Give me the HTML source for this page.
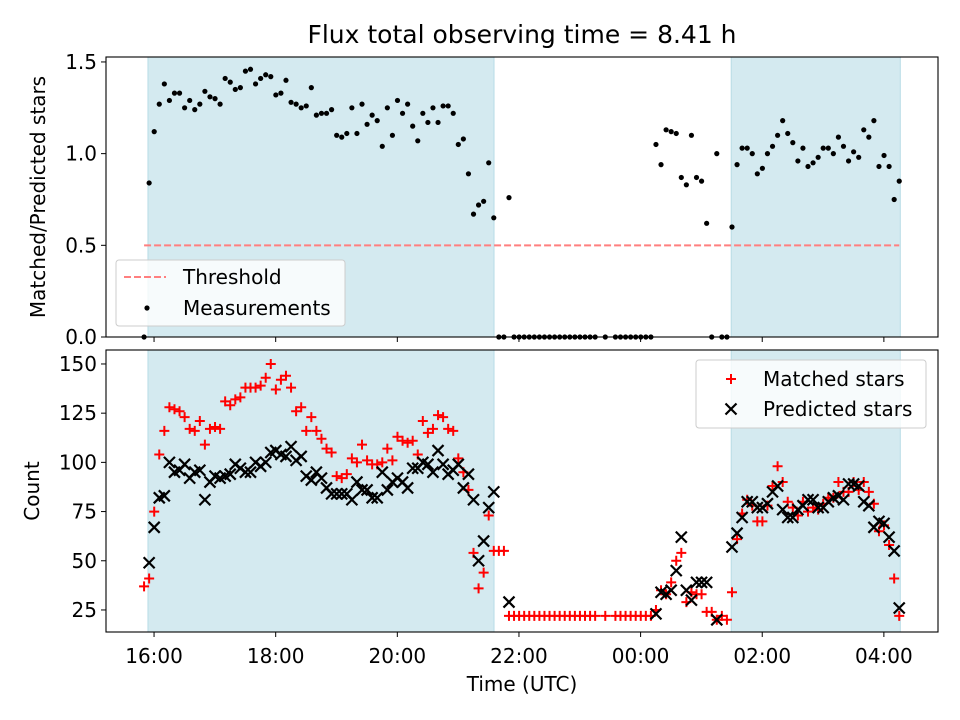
<!DOCTYPE html>
<html><head><meta charset="utf-8"><style>
html,body{margin:0;padding:0;background:#fff;}
svg{display:block;font-family:"DejaVu Sans","Liberation Sans",sans-serif;}
</style></head><body>
<svg id="fig" width="960" height="720" viewBox="0 0 960 720" xmlns="http://www.w3.org/2000/svg"></svg>
<script>
const startHour = -0.164;   // first sample ~15:50 (hours since 16:00)
const stepMinutes = 5;
const ratio = [0,0.84,1.12,1.27,1.38,1.29,1.33,1.33,1.25,1.29,
1.24,1.27,1.34,1.31,1.30,1.27,1.41,1.39,1.35,1.36,
1.45,1.46,1.38,1.41,1.43,1.42,1.32,1.33,1.40,1.28,
1.27,1.25,1.26,1.36,1.21,1.22,1.22,1.24,1.10,1.09,
1.11,1.25,1.11,1.27,1.16,1.21,1.18,1.04,1.25,1.10,
1.29,1.22,1.27,1.15,1.07,1.22,1.17,1.25,1.17,1.26,
1.26,1.22,1.05,1.08,0.89,0.67,0.72,0.74,0.95,0.65,
0,0,0.76,0,0,0,0,0,0,0,
0,0,0,0,0,0,0,0,0,0,
null,0,null,0,0,0,0,0,0,0,
0,1.05,0.94,1.13,1.12,1.11,0.87,0.83,1.10,0.87,
0.85,0.62,0,1.00,0,0,0.60,0.94,1.03,1.03,
1.00,0.89,0.92,1.00,1.04,1.10,1.18,1.11,1.06,0.96,
1.03,0.93,0.95,0.98,1.03,1.03,1.00,1.09,1.04,0.96,
1.01,0.98,1.13,1.09,1.18,0.93,0.99,0.93,0.75,0.85];
const matched = [37,41,75,104,116,128,127,126,123,117,
116,121,109,117,118,117,131,129,132,133,
138,138,138,139,143,150,137,142,144,138,
126,128,116,123,116,112,107,105,93,92,
94,102,100,109,101,99,99,100,107,101,
113,111,110,111,104,121,115,117,124,123,
117,116,102,95,86,54,36,44,73,55,
55,55,22,22,22,22,22,22,22,22,
22,22,22,22,22,22,22,22,22,22,
null,22,null,22,22,22,22,22,22,22,
22,25,35,33,39,50,54,29,34,33,
33,24,24,20,22,20,34,61,74,81,
78,70,70,78,88,98,90,80,77,73,
80,75,77,76,79,82,82,90,85,85,
90,86,90,85,79,65,68,58,41,22];
const predicted = [null,49,67,82,83,100,95,96,99,92,
95,96,81,90,93,92,93,94,99,97,
95,95,100,98,100,105,106,104,103,108,
101,103,93,91,95,92,87,84,84,84,
84,81,90,86,86,82,82,95,86,90,
92,90,87,97,97,100,99,95,106,99,
94,96,99,87,94,81,50,60,77,85,
null,null,29,null,null,null,null,null,null,null,
null,null,null,null,null,null,null,null,null,null,
null,null,null,null,null,null,null,null,null,null,
null,23,34,33,35,45,62,35,30,39,
39,39,null,20,null,null,57,64,72,80,
80,77,77,79,85,88,76,72,72,76,
78,81,81,77,77,80,82,83,81,89,
89,88,80,78,67,70,69,62,55,26];
const threshold = 0.5;
const spans = [[-0.10,5.59],[9.49,12.27]];
const xTickHours = [0,2,4,6,8,10,12];
const xTickLabels = ["16:00","18:00","20:00","22:00","00:00","02:00","04:00"];
const topTicks = [0,0.5,1.0,1.5];
const topTickLabels = ["0.0","0.5","1.0","1.5"];
const botTicks = [25,50,75,100,125,150];

const NS="http://www.w3.org/2000/svg";
const svg=document.getElementById('fig');
function mk(tag,attrs,parent){const e=document.createElementNS(NS,tag);for(const k in attrs)e.setAttribute(k,attrs[k]);(parent||svg).appendChild(e);return e;}
const L=106,R=938, T1=57,B1=337, T2=350,B2=632;
const FS=20;
const xMin=-0.79,xMax=12.89;
function xs(h){return L+(h-xMin)/(xMax-xMin)*(R-L);}
function y1(v){return B1-(v-0)/(1.527-0)*(B1-T1);}
function y2(v){return B2-(v-13.8)/(157.1-13.8)*(B2-T2);}
function tAt(i){return startHour+i*stepMinutes/60;}

let t=mk('text',{x:522,y:43,'text-anchor':'middle','font-size':25});
t.textContent='Flux total observing time = 8.41 h';



function axes(T,B,name){
  const g=mk('g',{});
  
  
  spans.forEach((s,k)=>{
    const r=mk('rect',{x:xs(s[0]),y:T,width:xs(s[1])-xs(s[0]),height:B-T,fill:'#d4eaf0',stroke:'#b8dce6','stroke-width':1},g);
    
    
  });
  return g;
}
function frame(T,B,g){
  mk('rect',{x:L,y:T,width:R-L,height:B-T,fill:'none',stroke:'#000','stroke-width':1.1},g);
  xTickHours.forEach(h=>{mk('line',{x1:xs(h),x2:xs(h),y1:B,y2:B+5,stroke:'#000','stroke-width':1},g);});
}

const g1=axes(T1,B1,'ratio-panel');
const th=mk('line',{x1:xs(tAt(0)),x2:xs(tAt(ratio.length-1)),y1:y1(threshold),y2:y1(threshold),stroke:'#ff7f7f','stroke-width':2,'stroke-dasharray':'7,3'},g1);


ratio.forEach((v,i)=>{
  if(v===null)return;
  const c=mk('circle',{cx:xs(tAt(i)),cy:y1(v),r:2.6,fill:'#000'},g1);
  
  
});
frame(T1,B1,g1);
topTicks.forEach((v,k)=>{
  mk('line',{x1:L-5,x2:L,y1:y1(v),y2:y1(v),stroke:'#000'},g1);
  const tx=mk('text',{x:L-9,y:y1(v)+7,'text-anchor':'end','font-size':FS},g1);
  tx.textContent=topTickLabels[k];
  
  
});
let yl=mk('text',{transform:'translate(45,197) rotate(-90)','text-anchor':'middle','font-size':FS});
yl.textContent='Matched/Predicted stars';


const lg1=mk('g',{});


mk('rect',{x:116,y:260,width:229,height:66,rx:3,fill:'#fff','fill-opacity':0.8,stroke:'#ccc'},lg1);
mk('line',{x1:124,x2:166,y1:277,y2:277,stroke:'#ff7f7f','stroke-width':2,'stroke-dasharray':'7,3'},lg1);
let lt=mk('text',{x:183,y:284,'font-size':FS},lg1);lt.textContent='Threshold';


mk('circle',{cx:147,cy:308,r:2.6,fill:'#000'},lg1);
lt=mk('text',{x:183,y:315,'font-size':FS},lg1);lt.textContent='Measurements';



const g2=axes(T2,B2,'count-panel');
matched.forEach((v,i)=>{
  if(v===null)return;
  const x=xs(tAt(i)),y=y2(v);
  const p=mk('path',{d:`M${x-5},${y}H${x+5}M${x},${y-5}V${y+5}`,stroke:'#f00','stroke-width':2,fill:'none'},g2);
  
  
});
predicted.forEach((v,i)=>{
  if(v===null)return;
  const x=xs(tAt(i)),y=y2(v);
  const p=mk('path',{d:`M${x-5.5},${y-5.5}L${x+5.5},${y+5.5}M${x-5.5},${y+5.5}L${x+5.5},${y-5.5}`,stroke:'#000','stroke-width':2.2,fill:'none'},g2);
  
  
});
frame(T2,B2,g2);
botTicks.forEach(v=>{
  mk('line',{x1:L-5,x2:L,y1:y2(v),y2:y2(v),stroke:'#000'},g2);
  const tx=mk('text',{x:L-9,y:y2(v)+7,'text-anchor':'end','font-size':FS},g2);
  tx.textContent=String(v);
  
  
});
xTickHours.forEach((h,k)=>{
  const tx=mk('text',{x:xs(h),y:B2+31,'text-anchor':'middle','font-size':FS},g2);
  tx.textContent=xTickLabels[k];
  
  
});
yl=mk('text',{transform:'translate(39,491) rotate(-90)','text-anchor':'middle','font-size':FS});
yl.textContent='Count';


let xl=mk('text',{x:522,y:691,'text-anchor':'middle','font-size':FS});
xl.textContent='Time (UTC)';


const lg2=mk('g',{});


mk('rect',{x:696,y:360,width:230,height:68,rx:3,fill:'#fff','fill-opacity':0.8,stroke:'#ccc'},lg2);
mk('path',{d:'M726,379H736M731,374V384',stroke:'#f00','stroke-width':2,fill:'none'},lg2);
lt=mk('text',{x:763,y:386,'font-size':FS},lg2);lt.textContent='Matched stars';


mk('path',{d:'M725.5,403.5L736.5,414.5M725.5,414.5L736.5,403.5',stroke:'#000','stroke-width':2.2,fill:'none'},lg2);
lt=mk('text',{x:763,y:416,'font-size':FS},lg2);lt.textContent='Predicted stars';


</script>
</body></html>
